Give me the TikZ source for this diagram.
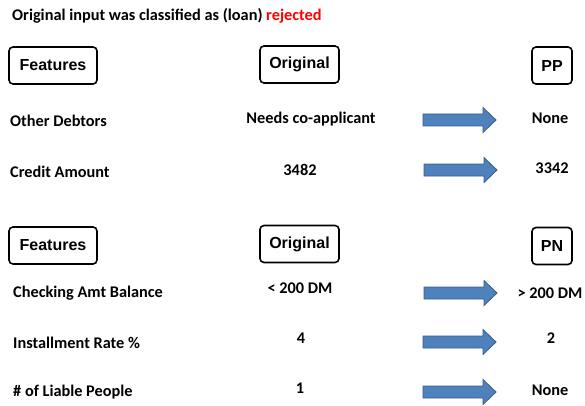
\documentclass[tikz,border=0pt]{standalone}
\usepackage{fontspec}
\setmainfont{Carlito}
\newfontfamily\boxfont{Liberation Sans}
\definecolor{arrowblue}{HTML}{4F81BD}
\definecolor{arrowedge}{HTML}{385D8A}
\tikzset{
  headbox/.style={draw, line width=1.6pt, rounded corners=4pt, minimum height=37pt,
    font=\boxfont\bfseries\fontsize{16}{18}\selectfont, inner sep=0pt},
  rowtext/.style={font=\bfseries\fontsize{16.3}{19}\selectfont, inner sep=0pt},
}
\begin{document}
\begin{tikzpicture}[x=1pt,y=-1pt]
        \useasboundingbox (0,0) rectangle (585,406);
        \node[rowtext, anchor=west] (title) at (12,16)
            {Original input was classified as (loan) \textcolor{red}{rejected}};

        % first block
        \node[headbox, minimum width=88pt] (feat1) at (53,65.5) {Features};
        \node[headbox, minimum width=79pt] (orig1) at (299.5,64.5) {Original};
        \node[headbox, minimum width=40pt] (pp) at (552,65.5) {PP};

        \node[rowtext, anchor=west] (debtors) at (10,121) {Other Debtors};
        \node[rowtext] (debtorsorig) at (311,119) {Needs co-applicant};
        \node[rowtext] (debtorspp) at (550,118) {None};

        \node[rowtext, anchor=west] (credit) at (10,172) {Credit Amount};
        \node[rowtext] (creditorig) at (300,170) {3482};
        \node[rowtext] (creditpp) at (552,168) {3342};

        % second block
        \node[headbox, minimum width=88pt] (feat2) at (53,245.5) {Features};
        \node[headbox, minimum width=79pt] (orig2) at (299.5,244) {Original};
        \node[headbox, minimum width=40pt] (pn) at (552,246) {PN};

        \node[rowtext, anchor=west] (checking) at (13,293) {Checking Amt Balance};
        \node[rowtext] (checkingorig) at (300,288) {< 200 DM};
        \node[rowtext] (checkingpn) at (550,293) {> 200 DM};

        \node[rowtext, anchor=west] (rate) at (13,343) {Installment Rate \%};
        \node[rowtext] (rateorig) at (301,338) {4};
        \node[rowtext] (ratepn) at (551,338) {2};

        \node[rowtext, anchor=west] (liable) at (13,392) {\# of Liable People};
        \node[rowtext] (liableorig) at (300,388) {1};
        \node[rowtext] (liablepn) at (550,390) {None};

        % block arrows
        \foreach \ax/\ay in {423/120, 424/170, 424/293, 423/342, 423/392}
            \filldraw[fill=arrowblue, draw=arrowedge, line width=0.8pt]
                (\ax,\ay-6) -- ++(60,0) -- ++(0,-6.5) -- ++(13,12.5)
                -- ++(-13,12.5) -- ++(0,-6.5) -- ++(-60,0) -- cycle;
\end{tikzpicture}
\end{document}
